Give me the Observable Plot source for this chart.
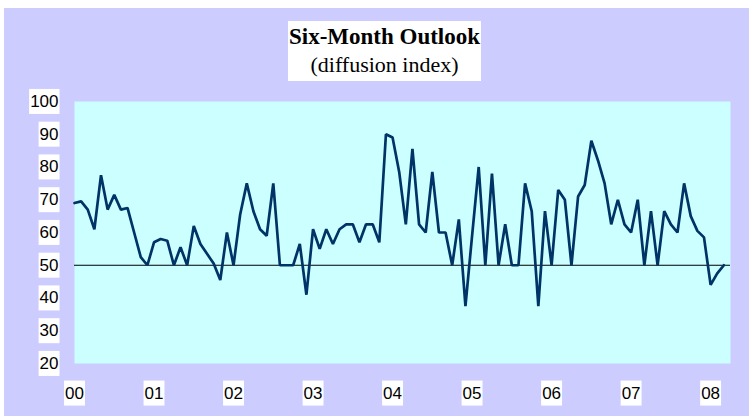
<!DOCTYPE html>
<html>
<head>
<meta charset="utf-8">
<script src="https://cdn.jsdelivr.net/npm/d3@7"></script>
<script src="https://cdn.jsdelivr.net/npm/@observablehq/plot@0.6"></script>
<style>
  html, body { margin: 0; padding: 0; background: #ffffff; }
  #wrap { position: relative; width: 749px; height: 416px; overflow: hidden; }
  #bg { position: absolute; left: 4px; top: 8px; width: 745px; height: 408px; background: #CCCCFF; }
  #chart { position: absolute; left: 0; top: 0; }
  #title { position: absolute; left: 288px; top: 21px; width: 193px; height: 60px; background: #ffffff;
           font-family: "Liberation Serif", "Times New Roman", serif; text-align: center; color: #000; }
  #title .t { font-weight: bold; font-size: 23px; line-height: 28px; margin-top: 2px; white-space: nowrap; }
  #title .s { font-size: 22px; line-height: 28px; white-space: nowrap; }
</style>
</head>
<body>
<div id="wrap">
  <div id="bg"></div>
  <div id="chart"></div>
  <div id="title"><div class="t">Six-Month Outlook</div><div class="s">(diffusion index)</div></div>
</div>
<script>
// Monthly diffusion index, January 2000 through March 2008
const startYear = 2000;
const values = [
  69, 69.5, 67, 61, 77.5, 67, 71.5, 67, 67.5, 60, 52.5, 50,
  57, 58, 57.5, 50, 55.5, 50, 62, 56.5, 53.5, 50.5, 45.5, 60,
  50, 65.5, 75, 66.5, 61, 59, 75, 50, 50, 50, 56.5, 41,
  61, 55, 61, 56.5, 61, 62.5, 62.5, 57, 62.5, 62.5, 57, 90,
  89, 78.5, 62.5, 85.5, 62.5, 60, 78.5, 60, 60, 50, 64, 37.5,
  59, 80, 50, 78, 50, 62.5, 50, 50, 75, 66.5, 37.5, 66.5,
  50, 73, 70, 50, 71, 74.5, 88, 82, 75, 62.5, 70, 62.5,
  60, 70, 50, 66.5, 50, 66.5, 62.5, 60, 75, 65, 60.5, 58.5,
  44, 47.5, 50
];
const yearLabels = ["00", "01", "02", "03", "04", "05", "06", "07", "08"];
const yTicks = [20, 30, 40, 50, 60, 70, 80, 90, 100];
const referenceValue = 50;

const data = values.map((v, i) => ({month: i, value: v}));
const xTicks = yearLabels.map((_, k) => k * 12);

const chart = Plot.plot({
  width: 749,
  height: 416,
  marginLeft: 74,
  marginRight: 19,
  marginTop: 101,
  marginBottom: 53,
  style: {fontFamily: "'Liberation Sans', Arial, sans-serif", fontSize: "17px", background: "transparent", color: "#000"},
  x: {domain: [0, 99]},
  y: {domain: [20, 100]},
  marks: [
    Plot.frame({fill: "#CCFFFF", stroke: null}),
    Plot.axisY({ticks: yTicks, tickSize: 0, tickPadding: 16, label: null, fill: "#000", fontSize: 17}),
    Plot.axisX({ticks: xTicks, tickFormat: (d) => yearLabels[d / 12], tickSize: 0, tickPadding: 23, label: null, fill: "#000", fontSize: 17}),
    Plot.ruleY([referenceValue], {stroke: "#000", strokeWidth: 1}),
    Plot.line(data, {x: "month", y: "value", stroke: "#003366", strokeWidth: 2.7, strokeLinejoin: "miter"})
  ]
});
document.getElementById("chart").appendChild(chart);

// white boxes behind tick labels
d3.select(chart).selectAll("text").each(function() {
  const b = this.getBBox();
  const r = document.createElementNS("http://www.w3.org/2000/svg", "rect");
  r.setAttribute("x", b.x - 1);
  r.setAttribute("y", b.y - 3);
  r.setAttribute("width", b.width + 2);
  r.setAttribute("height", b.height + 6);
  r.setAttribute("fill", "#ffffff");
  const tr = this.getAttribute("transform");
  if (tr) r.setAttribute("transform", tr);
  this.parentNode.insertBefore(r, this);
});
</script>
</body>
</html>
